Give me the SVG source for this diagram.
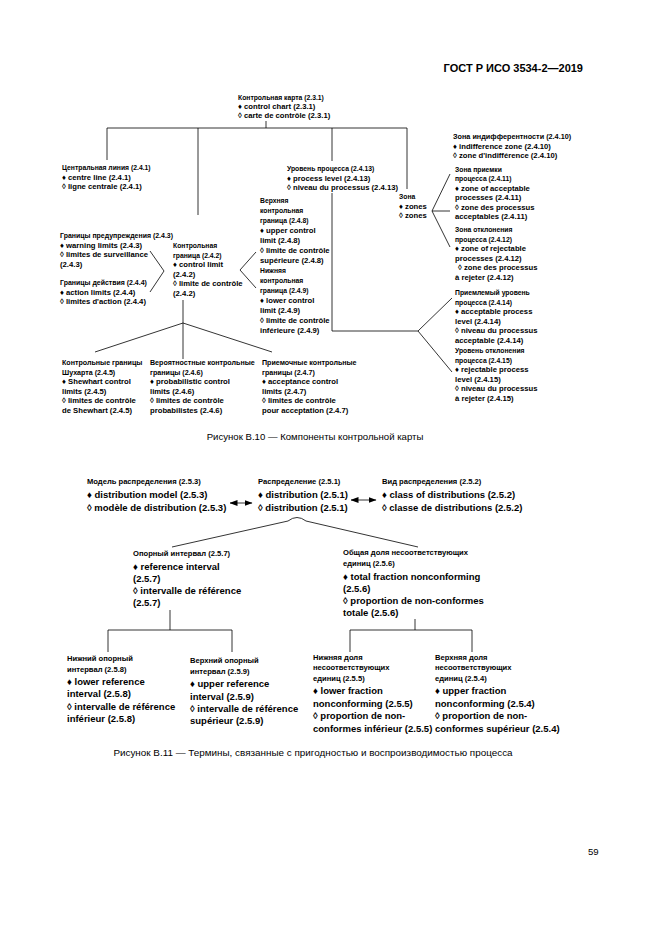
<svg xmlns="http://www.w3.org/2000/svg" width="661" height="935" viewBox="0 0 661 935">
<style>
text{font-family:"Liberation Sans",Arial,sans-serif;fill:#000}
.h{font-weight:bold;font-size:11px}
.t{font-weight:bold;font-size:7.7px}
.r{font-weight:bold;font-size:7.9px}
.s{font-weight:bold;font-size:7.6px}
.l{font-weight:bold;font-size:9.5px}
.c{font-size:9.6px}
.ln{stroke:#000;stroke-width:0.8;fill:none}
</style>
<defs>
<marker id="ah" viewBox="0 0 8 6" refX="7.5" refY="3" markerWidth="8" markerHeight="6" markerUnits="userSpaceOnUse" orient="auto-start-reverse">
<path d="M0,0 L8,3 L0,6 Z" fill="#000"/>
</marker>
</defs>
<rect width="661" height="935" fill="#fff"/>
<text class="h" x="583" y="72" text-anchor="end">ГОСТ Р ИСО 3534-2—2019</text>

<g id="connectors" class="ln">
<path d="M266,121 V128 M107,128 H407 M107,128 V160 M198,128 V215 M332,128 V161 M407,128 V189"/>
<path d="M432,211 L450,174 M432,211 H450 M432,211 L450,247"/>
<path d="M150,251 L164,271 L150,292"/>
<path d="M256,252 L240,270 L256,288"/>
<path d="M183,300 V359 M183,323 L95,352 M183,323 L272,352"/>
<path d="M332,193 V331 H418 M418,331 L452,298 M418,331 L452,372"/>
<path d="M230,503 H252" marker-start="url(#ah)" marker-end="url(#ah)"/>
<path d="M351,500 H376" marker-start="url(#ah)" marker-end="url(#ah)"/>
<path d="M172,547 L288,521 Q297,514 306,521 L418,547"/>
<path d="M170,610 V630 M108,630 H232 M108,630 V652 M232,630 V652"/>
<path d="M415,619 V630 M350,630 H472 M350,630 V652 M472,630 V652"/>
</g>

<g id="n-control-chart">
<text class="r" transform="translate(238,100) scale(0.86,1)">Контрольная карта (2.3.1)</text>
<text class="t" x="238" y="109">♦ control chart (2.3.1)</text>
<text class="t" x="238" y="118">◊ carte de contrôle (2.3.1)</text>
</g>
<g id="n-centre-line">
<text class="r" transform="translate(62,170) scale(0.86,1)">Центральная линия (2.4.1)</text>
<text class="t" x="62" y="179.6">♦ centre line (2.4.1)</text>
<text class="t" x="62" y="189.2">◊ ligne centrale (2.4.1)</text>
</g>
<g id="n-process-level">
<text class="r" transform="translate(287,171) scale(0.86,1)">Уровень процесса (2.4.13)</text>
<text class="t" x="287" y="180.6">♦ process level (2.4.13)</text>
<text class="t" x="287" y="190.2">◊ niveau du processus (2.4.13)</text>
</g>
<g id="n-zones">
<text class="r" transform="translate(399,199) scale(0.86,1)">Зона</text>
<text class="t" x="399" y="208.6">♦ zones</text>
<text class="t" x="399" y="218.2">◊ zones</text>
</g>
<g id="n-indifference">
<text class="r" transform="translate(453,139) scale(0.92,1)">Зона индифферентности (2.4.10)</text>
<text class="t" x="453" y="148.6">♦ indifference zone (2.4.10)</text>
<text class="t" x="453" y="158.2">◊ zone d'indifférence (2.4.10)</text>
</g>
<g id="n-acceptable-zone">
<text class="r" transform="translate(455,171.5) scale(0.86,1)">Зона приемки</text>
<text class="r" transform="translate(455,181) scale(0.86,1)">процесса (2.4.11)</text>
<text class="t" x="455" y="190.5">♦ zone of acceptable</text>
<text class="t" x="455" y="200">processes (2.4.11)</text>
<text class="t" x="455" y="209.5">◊ zone des processus</text>
<text class="t" x="455" y="219">acceptables (2.4.11)</text>
</g>
<g id="n-rejectable-zone">
<text class="r" transform="translate(455,232) scale(0.86,1)">Зона отклонения</text>
<text class="r" transform="translate(455,241.5) scale(0.86,1)">процесса (2.4.12)</text>
<text class="t" x="455" y="251">♦ zone of rejectable</text>
<text class="t" x="455" y="260.5">processes (2.4.12)</text>
<text class="t" x="458" y="270">◊ zone des processus</text>
<text class="t" x="455" y="279.5">à rejeter (2.4.12)</text>
</g>
<g id="n-acceptable-level">
<text class="r" transform="translate(455,295) scale(0.86,1)">Приемлемый уровень</text>
<text class="r" transform="translate(455,304.6) scale(0.86,1)">процесса (2.4.14)</text>
<text class="t" x="455" y="314.2">♦ acceptable process</text>
<text class="t" x="455" y="323.8">level (2.4.14)</text>
<text class="t" x="455" y="333.4">◊ niveau du processus</text>
<text class="t" x="455" y="343">acceptable (2.4.14)</text>
</g>
<g id="n-rejectable-level">
<text class="r" transform="translate(455,353) scale(0.86,1)">Уровень отклонения</text>
<text class="r" transform="translate(455,362.6) scale(0.86,1)">процесса (2.4.15)</text>
<text class="t" x="455" y="372.2">♦ rejectable process</text>
<text class="t" x="455" y="381.8">level (2.4.15)</text>
<text class="t" x="455" y="391.4">◊ niveau du processus</text>
<text class="t" x="455" y="401">à rejeter (2.4.15)</text>
</g>
<g id="n-warning-limits">
<text class="r" transform="translate(60,238) scale(0.88,1)">Границы предупреждения (2.4.3)</text>
<text class="t" x="60" y="247.6">♦ warning limits (2.4.3)</text>
<text class="t" x="60" y="257.2">◊ limites de surveillance</text>
<text class="t" x="60" y="266.8">(2.4.3)</text>
</g>
<g id="n-action-limits">
<text class="r" transform="translate(60,285) scale(0.88,1)">Границы действия (2.4.4)</text>
<text class="t" x="60" y="294.6">♦ action limits (2.4.4)</text>
<text class="t" x="60" y="304.2">◊ limites d'action (2.4.4)</text>
</g>
<g id="n-control-limit">
<text class="r" transform="translate(173,248) scale(0.86,1)">Контрольная</text>
<text class="r" transform="translate(173,257.6) scale(0.86,1)">граница (2.4.2)</text>
<text class="t" x="173" y="267.2">♦ control limit</text>
<text class="t" x="173" y="276.8">(2.4.2)</text>
<text class="t" x="173" y="286.4">◊ limite de contrôle</text>
<text class="t" x="173" y="296">(2.4.2)</text>
</g>
<g id="n-upper-lower-control-limit">
<text class="r" transform="translate(260,203) scale(0.86,1)">Верхняя</text>
<text class="r" transform="translate(260,213) scale(0.86,1)">контрольная</text>
<text class="r" transform="translate(260,223) scale(0.86,1)">граница (2.4.8)</text>
<text class="t" x="260" y="233">♦ upper control</text>
<text class="t" x="260" y="243">limit (2.4.8)</text>
<text class="t" x="260" y="253">◊ limite de contrôle</text>
<text class="t" x="260" y="263">supérieure (2.4.8)</text>
<text class="r" transform="translate(260,273) scale(0.86,1)">Нижняя</text>
<text class="r" transform="translate(260,283) scale(0.86,1)">контрольная</text>
<text class="r" transform="translate(260,293) scale(0.86,1)">граница (2.4.9)</text>
<text class="t" x="260" y="303">♦ lower control</text>
<text class="t" x="260" y="313">limit (2.4.9)</text>
<text class="t" x="260" y="323">◊ limite de contrôle</text>
<text class="t" x="260" y="333">inférieure (2.4.9)</text>
</g>
<g id="n-shewhart">
<text class="r" transform="translate(62,365) scale(0.9,1)">Контрольные границы</text>
<text class="r" transform="translate(62,374.6) scale(0.9,1)">Шухарта (2.4.5)</text>
<text class="t" x="62" y="384.2">♦ Shewhart control</text>
<text class="t" x="62" y="393.8">limits (2.4.5)</text>
<text class="t" x="62" y="403.4">◊ limites de contrôle</text>
<text class="t" x="62" y="413">de Shewhart (2.4.5)</text>
</g>
<g id="n-probabilistic">
<text class="r" transform="translate(150,365) scale(0.9,1)">Вероятностные контрольные</text>
<text class="r" transform="translate(150,374.6) scale(0.9,1)">границы (2.4.6)</text>
<text class="t" x="150" y="384.2">♦ probabilistic control</text>
<text class="t" x="150" y="393.8">limits (2.4.6)</text>
<text class="t" x="150" y="403.4">◊ limites de contrôle</text>
<text class="t" x="150" y="413">probabilistes (2.4.6)</text>
</g>
<g id="n-acceptance">
<text class="r" transform="translate(262,365) scale(0.9,1)">Приемочные контрольные</text>
<text class="r" transform="translate(262,374.6) scale(0.9,1)">границы (2.4.7)</text>
<text class="t" x="262" y="384.2">♦ acceptance control</text>
<text class="t" x="262" y="393.8">limits (2.4.7)</text>
<text class="t" x="262" y="403.4">◊ limites de contrôle</text>
<text class="t" x="262" y="413">pour acceptation (2.4.7)</text>
</g>
<text class="c" x="315" y="440" text-anchor="middle">Рисунок B.10 — Компоненты контрольной карты</text>

<g id="n-distribution-model">
<text class="s" x="87" y="484">Модель распределения (2.5.3)</text>
<text class="l" x="87" y="497.5">♦ distribution model (2.5.3)</text>
<text class="l" x="87" y="510.5">◊ modèle de distribution (2.5.3)</text>
</g>
<g id="n-distribution">
<text class="s" x="258" y="484">Распределение (2.5.1)</text>
<text class="l" x="258" y="497.5">♦ distribution (2.5.1)</text>
<text class="l" x="258" y="510.5">◊ distribution (2.5.1)</text>
</g>
<g id="n-class">
<text class="s" x="382" y="484">Вид распределения (2.5.2)</text>
<text class="l" x="382" y="497.5">♦ class of distributions (2.5.2)</text>
<text class="l" x="382" y="510.5">◊ classe de distributions (2.5.2)</text>
</g>
<g id="n-reference-interval">
<text class="s" x="133" y="556">Опорный интервал (2.5.7)</text>
<text class="l" x="133" y="569.5">♦ reference interval</text>
<text class="l" x="133" y="581.5">(2.5.7)</text>
<text class="l" x="133" y="594">◊ intervalle de référence</text>
<text class="l" x="133" y="606">(2.5.7)</text>
</g>
<g id="n-total-fraction">
<text class="s" x="343" y="555">Общая доля несоответствующих</text>
<text class="s" x="343" y="566">единиц (2.5.6)</text>
<text class="l" x="343" y="579.5">♦ total fraction nonconforming</text>
<text class="l" x="343" y="591.5">(2.5.6)</text>
<text class="l" x="343" y="603.5">◊ proportion de non-conformes</text>
<text class="l" x="343" y="615.5">totale (2.5.6)</text>
</g>
<g id="n-lower-reference">
<text class="s" x="67" y="661">Нижний опорный</text>
<text class="s" x="67" y="672">интервал (2.5.8)</text>
<text class="l" x="67" y="684.5">♦ lower reference</text>
<text class="l" x="67" y="697">interval (2.5.8)</text>
<text class="l" x="67" y="709.5">◊ intervalle de référence</text>
<text class="l" x="67" y="721.5">inférieur (2.5.8)</text>
</g>
<g id="n-upper-reference">
<text class="s" x="190" y="663">Верхний опорный</text>
<text class="s" x="190" y="674">интервал (2.5.9)</text>
<text class="l" x="190" y="687">♦ upper reference</text>
<text class="l" x="190" y="699.5">interval (2.5.9)</text>
<text class="l" x="190" y="711.5">◊ intervalle de référence</text>
<text class="l" x="190" y="723.5">supérieur (2.5.9)</text>
</g>
<g id="n-lower-fraction">
<text class="s" x="313" y="660">Нижняя доля</text>
<text class="s" x="313" y="670">несоответствующих</text>
<text class="s" x="313" y="681">единиц (2.5.5)</text>
<text class="l" x="313" y="693.5">♦ lower fraction</text>
<text class="l" x="313" y="706.5">nonconforming (2.5.5)</text>
<text class="l" x="313" y="718.5">◊ proportion de non-</text>
<text class="l" x="313" y="731.5">conformes inférieur (2.5.5)</text>
</g>
<g id="n-upper-fraction">
<text class="s" x="435" y="660">Верхняя доля</text>
<text class="s" x="435" y="670">несоответствующих</text>
<text class="s" x="435" y="681">единиц (2.5.4)</text>
<text class="l" x="435" y="693.5">♦ upper fraction</text>
<text class="l" x="435" y="706.5">nonconforming (2.5.4)</text>
<text class="l" x="435" y="718.5">◊ proportion de non-</text>
<text class="l" x="435" y="731.5">conformes supérieur (2.5.4)</text>
</g>
<text class="c" x="313" y="756" text-anchor="middle" style="font-size:9.9px">Рисунок B.11 — Термины, связанные с пригодностью и воспроизводимостью процесса</text>
<text class="c" x="588" y="855">59</text>
</svg>
